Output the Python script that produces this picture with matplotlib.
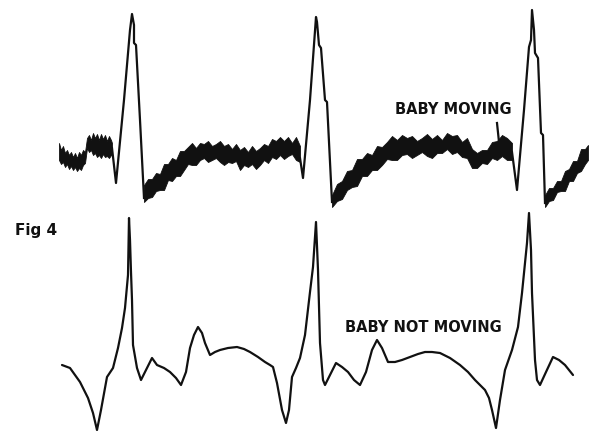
"""Fig 4: fetal ECG, baby moving (noisy) vs baby not moving (clean)."""

import matplotlib
matplotlib.use("Agg")
import matplotlib.pyplot as plt

# ---- upper trace (baby moving), image pixel coordinates ----
# noisy stretches are given as an upper / lower envelope (jagged edges)
noise1_x   = [59, 61, 63, 65, 67, 69, 71, 73, 75, 77, 79, 81, 83, 85, 87, 89, 91,
              93, 95, 97, 99, 101, 103, 105, 107, 109, 111, 112]
noise1_top = [143, 150, 146, 153, 150, 155, 152, 157, 153, 158, 152, 155, 150, 152,
              138, 135, 140, 133, 138, 134, 140, 134, 139, 135, 141, 136, 140, 143]
noise1_bot = [160, 164, 162, 167, 164, 169, 166, 170, 167, 171, 168, 170, 165, 163,
              148, 152, 150, 155, 153, 157, 155, 158, 154, 157, 156, 158, 155, 155]

noise2_x   = [144, 148, 152, 156, 160, 164, 168, 172, 176, 180, 184, 188, 192, 196,
              200, 204, 208, 212, 216, 220, 224, 228, 232, 236, 240, 244, 248, 252,
              256, 260, 264, 268, 272, 276, 280, 284, 288, 292, 296, 300]
noise2_top = [185, 179, 179, 173, 174, 164, 164, 158, 160, 151, 151, 147, 143, 148,
              143, 144, 141, 146, 144, 141, 146, 144, 149, 144, 150, 147, 152, 146,
              151, 148, 144, 146, 139, 141, 137, 141, 137, 143, 137, 146]
noise2_bot = [202, 198, 197, 191, 190, 190, 180, 181, 176, 176, 170, 164, 165, 165,
              160, 158, 162, 160, 158, 162, 165, 162, 163, 161, 170, 165, 167, 164,
              169, 165, 160, 163, 157, 159, 155, 159, 156, 154, 160, 162]

noise3_x   = [332, 337, 342, 347, 352, 357, 362, 367, 372, 377, 382, 387, 392, 397,
              402, 407, 412, 417, 422, 427, 432, 437, 442, 447, 452, 457, 462, 467,
              472, 477, 482, 487, 492, 497, 502, 507, 512]
noise3_top = [195, 184, 181, 171, 170, 159, 159, 153, 155, 146, 147, 142, 136, 140,
              135, 138, 136, 141, 138, 134, 139, 135, 140, 133, 136, 135, 142, 138,
              149, 153, 150, 150, 142, 141, 135, 138, 143]
noise3_bot = [207, 201, 199, 190, 187, 186, 176, 176, 170, 170, 165, 159, 160, 160,
              155, 154, 158, 155, 152, 156, 158, 153, 153, 149, 154, 152, 157, 158,
              168, 168, 163, 164, 158, 160, 156, 160, 160]

noise4_x   = [545, 549, 553, 557, 561, 565, 569, 573, 577, 581, 585, 588]
noise4_top = [195, 188, 188, 181, 181, 171, 169, 161, 161, 149, 149, 145]
noise4_bot = [207, 201, 200, 192, 191, 191, 181, 181, 173, 171, 164, 160]

# clean QRS complexes of the upper trace
qrs1_x = [112, 116, 124, 130, 132, 134, 134, 136, 140, 144]
qrs1_y = [148, 183, 100, 30, 14, 25, 43, 45, 120, 198]
qrs2_x = [300, 303, 310, 316, 317, 319, 321, 325, 327, 332]
qrs2_y = [158, 178, 100, 17, 22, 45, 48, 100, 102, 202]
qrs3_x = [512, 517, 524, 529, 531, 532, 534, 535, 538, 541, 543, 545]
qrs3_y = [152, 190, 110, 47, 40, 10, 30, 53, 58, 133, 135, 203]
spike_x = [497, 499]
spike_y = [123, 142]

# ---- lower trace (baby not moving) ----
calm_x = [62, 70, 80, 88, 93, 97, 101, 107, 113, 118, 122, 125, 128, 129,
          130, 131, 132, 133, 137, 141, 146, 152, 157, 164, 170, 176, 181,
          186, 190, 194, 198, 202, 205, 210, 215, 220, 228, 237, 244, 250,
          258, 265, 270, 273, 277, 282, 286, 289, 292, 296, 300, 305, 310,
          313, 316, 318, 320, 323, 325, 330, 336, 342, 348, 354, 360, 366,
          372, 377, 382, 388, 395, 402, 410, 418, 425, 432, 440, 450, 460,
          468, 475, 480, 485, 489, 492, 496, 500, 505, 512, 518, 522, 527,
          529, 531, 532, 535, 537, 540, 546, 553, 559, 565, 573]
calm_y = [365, 368, 382, 398, 413, 430, 410, 377, 368, 348, 328, 308, 275,
          218, 240, 272, 300, 345, 368, 380, 370, 358, 365, 368, 372, 378,
          385, 372, 348, 335, 327, 333, 343, 355, 352, 350, 348, 347, 349,
          352, 357, 362, 365, 367, 383, 410, 423, 410, 377, 368, 358, 335,
          292, 267, 222, 270, 343, 380, 385, 375, 363, 367, 372, 380, 385,
          372, 350, 340, 348, 362, 362, 360, 357, 354, 352, 352, 353, 358,
          365, 372, 380, 385, 390, 398, 410, 428, 400, 370, 350, 327, 293,
          243, 213, 250, 293, 360, 380, 385, 372, 357, 360, 365, 375]

labels = ["BABY MOVING", "BABY NOT MOVING", "Fig 4"]

INK = "#111111"
LW = 1.6

fig = plt.figure(figsize=(5.95, 4.34), dpi=100)
ax = fig.add_axes([0, 0, 1, 1])
ax.set_xlim(0, 595)
ax.set_ylim(434, 0)
ax.axis("off")

# upper trace: noise bands + clean complexes
for nx, nt, nb in [(noise1_x, noise1_top, noise1_bot),
                   (noise2_x, noise2_top, noise2_bot),
                   (noise3_x, noise3_top, noise3_bot),
                   (noise4_x, noise4_top, noise4_bot)]:
    ax.fill_between(nx, nt, nb, color=INK, lw=0.6, edgecolor=INK)
for qx, qy in [(qrs1_x, qrs1_y), (qrs2_x, qrs2_y), (qrs3_x, qrs3_y),
               (spike_x, spike_y)]:
    ax.plot(qx, qy, color=INK, lw=LW, solid_joinstyle="round")

# lower trace
ax.plot(calm_x, calm_y, color=INK, lw=LW, solid_joinstyle="round",
        solid_capstyle="round")

ax.text(395, 109, labels[0], ha="left", va="center", fontsize=10.5,
        fontweight="bold", color=INK)
ax.text(345, 328, labels[1], ha="left", va="center", fontsize=10.5,
        fontweight="bold", color=INK)
ax.text(15, 231, labels[2], ha="left", va="center", fontsize=11,
        fontweight="bold", color=INK)

fig.savefig("out.png", dpi=100)
